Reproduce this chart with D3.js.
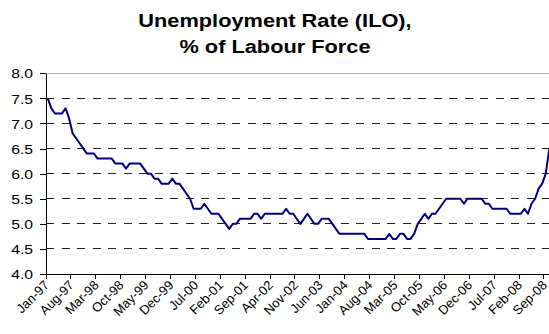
<!DOCTYPE html>
<html>
<head>
<meta charset="utf-8">
<script src="https://cdn.jsdelivr.net/npm/d3@7"></script>
<style>
  html, body { margin: 0; padding: 0; background: #fff; }
  svg { display: block; }
  text { font-family: "Liberation Sans", Arial, sans-serif; fill: #000; }
</style>
</head>
<body>
<svg id="chart" width="549" height="334"></svg>
<script>
// ---- data ----
const startYear = 1997;
const rate = [
  7.5, 7.3, 7.2, 7.2, 7.2, 7.3, 7.1, 6.8, 6.7, 6.6, 6.5, 6.4,
  6.4, 6.4, 6.3, 6.3, 6.3, 6.3, 6.3, 6.2, 6.2, 6.2, 6.1, 6.2,
  6.2, 6.2, 6.2, 6.1, 6.0, 6.0, 5.9, 5.9, 5.8, 5.8, 5.8, 5.9,
  5.8, 5.8, 5.7, 5.6, 5.5, 5.3, 5.3, 5.3, 5.4, 5.3, 5.2, 5.2,
  5.2, 5.1, 5.0, 4.9, 5.0, 5.0, 5.1, 5.1, 5.1, 5.1, 5.2, 5.2,
  5.1, 5.2, 5.2, 5.2, 5.2, 5.2, 5.2, 5.3, 5.2, 5.2, 5.1, 5.0,
  5.1, 5.2, 5.1, 5.0, 5.0, 5.1, 5.1, 5.1, 5.0, 4.9, 4.8, 4.8,
  4.8, 4.8, 4.8, 4.8, 4.8, 4.8, 4.7, 4.7, 4.7, 4.7, 4.7, 4.7,
  4.8, 4.7, 4.7, 4.8, 4.8, 4.7, 4.7, 4.8, 5.0, 5.1, 5.2, 5.1,
  5.2, 5.2, 5.3, 5.4, 5.5, 5.5, 5.5, 5.5, 5.5, 5.4, 5.5, 5.5,
  5.5, 5.5, 5.5, 5.4, 5.4, 5.3, 5.3, 5.3, 5.3, 5.3, 5.2, 5.2,
  5.2, 5.2, 5.3, 5.2, 5.4, 5.5, 5.7, 5.8, 6.0, 6.5
];
const tickLabels = ["Jan-97","Aug-97","Mar-98","Oct-98","May-99","Dec-99","Jul-00",
  "Feb-01","Sep-01","Apr-02","Nov-02","Jun-03","Jan-04","Aug-04","Mar-05","Oct-05",
  "May-06","Dec-06","Jul-07","Feb-08","Sep-08"];
const yTicks = [4.0, 4.5, 5.0, 5.5, 6.0, 6.5, 7.0, 7.5, 8.0];
const titleLines = ["Unemployment Rate (ILO),", "% of Labour Force"];

// category labels (months)
const fmt = d3.timeFormat("%b-%y");
const categories = rate.map((v, i) => fmt(new Date(startYear, i, 1)));
const data = rate.map((v, i) => ({ cat: categories[i], v }));

// ---- layout ----
const stretch = 1.21;
const mLeft = 46, mTop = 73.3, mBottom = 274;
const bandW = 3.557;
const svg = d3.select("#chart");

const x = d3.scaleBand().domain(categories).range([mLeft, mLeft + categories.length * bandW]);
const y = d3.scaleLinear().domain([4, 8]).range([mBottom, mTop]);
const plotRight = mLeft + categories.length * bandW;

// gridlines
svg.append("g").selectAll("line")
  .data(yTicks.filter(d => d > 4))
  .join("line")
  .attr("x1", mLeft).attr("x2", plotRight)
  .attr("y1", d => y(d)).attr("y2", d => y(d))
  .attr("stroke", d => d === 8 ? "#b0b0b0" : "#222")
  .attr("stroke-width", 1)
  .attr("stroke-dasharray", d => d === 8 ? null : "8,7.5")
  .attr("shape-rendering", "crispEdges");

// y axis
const yAxis = svg.append("g")
  .attr("transform", `translate(${mLeft},0)`)
  .call(d3.axisLeft(y).tickValues(yTicks).tickFormat(d3.format(".1f")).tickSize(6).tickSizeOuter(0));
yAxis.select(".domain").attr("stroke", "#000").attr("shape-rendering", "crispEdges");
yAxis.selectAll(".tick line").attr("stroke", "#000").attr("shape-rendering", "crispEdges");
yAxis.selectAll(".tick text")
  .attr("font-size", 13)
  .attr("x", null).attr("dy", "0.36em")
  .attr("transform", `translate(-13,0) scale(${stretch},1)`)
  .style("font-family", "Liberation Sans, Arial, sans-serif");

// x axis
const tickCats = categories.filter((d, i) => i % 7 === 0);
const xAxis = svg.append("g")
  .attr("transform", `translate(0,${mBottom})`)
  .call(d3.axisBottom(x).tickValues(tickCats).tickSize(5).tickSizeOuter(0)
    .tickFormat((d, i) => tickLabels[i]));
xAxis.select(".domain").attr("stroke", "#000").attr("shape-rendering", "crispEdges");
xAxis.selectAll(".tick line")
  .attr("x1", -x.bandwidth() / 2).attr("x2", -x.bandwidth() / 2)
  .attr("stroke", "#000").attr("shape-rendering", "crispEdges");
xAxis.selectAll(".tick text")
  .attr("font-size", 13)
  .attr("y", null).attr("dy", null)
  .attr("text-anchor", "end")
  .attr("transform", "translate(2,12) rotate(-45)")
  .style("font-family", "Liberation Sans, Arial, sans-serif");

// line
const line = d3.line()
  .x(d => x(d.cat) + x.bandwidth() / 2)
  .y(d => y(d.v));
svg.append("path")
  .datum(data)
  .attr("d", line)
  .attr("fill", "none")
  .attr("stroke", "#000080")
  .attr("stroke-width", 2)
  .attr("stroke-linejoin", "round");

// title
svg.append("g").selectAll("text")
  .data(titleLines)
  .join("text")
  .attr("transform", (d, i) => `translate(275,${26.5 + i * 26.5}) scale(${stretch},1)`)
  .attr("text-anchor", "middle")
  .attr("font-size", 18)
  .attr("font-weight", "bold")
  .text(d => d);
</script>
</body>
</html>
